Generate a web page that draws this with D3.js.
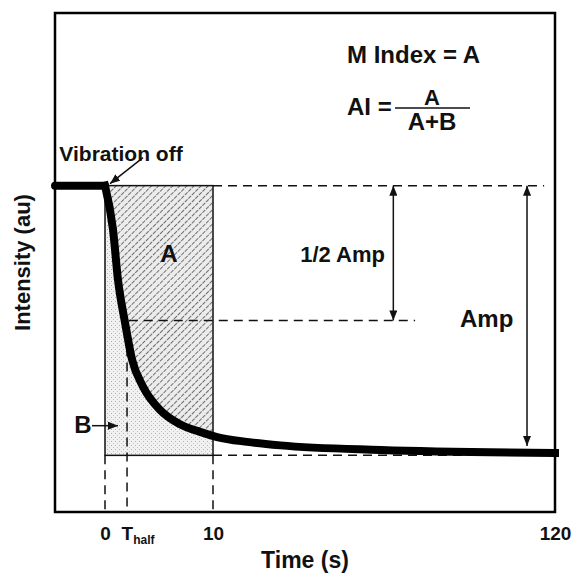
<!DOCTYPE html>
<html lang="en">
<head>
  <meta charset="UTF-8">
  <title>Intensity decay</title>
  <script src="https://d3js.org/d3.v7.min.js"></script>
  <style>
    body { margin: 0; background: #fff; }
    text { font-family: "Liberation Sans", Arial, sans-serif; font-weight: bold; fill: #111; }
  </style>
</head>
<body>
  <div id="wrapper"></div>
  <script>
    // values
    const preStepTime = [-4.6, 0]
    const preStepIntensity = [1, 1]
    const decayTime = [0, 0.74, 1.2, 1.85, 2.5, 3.5, 5.1, 6.9, 8.8, 11.3, 21, 31.7, 64, 120]
    const decayIntensity = [1, 0.837, 0.652, 0.493, 0.356, 0.256, 0.168, 0.116, 0.087, 0.068, 0.05, 0.037, 0.02, 0.009]
    const tickValues = [0, 2.04, 10, 120]
    const tickLabels = ['0', 'T', '10', '120']
    const tHalf = 2.04
    const windowEnd = 10
    const halfAmpArrowTime = 68
    const ampArrowTime = 111

    const drawChart = () => {
      let dimensions = {
        width: 579,
        height: 581,
        margin: { top: 13, right: 24, bottom: 69, left: 55 },
      }
      dimensions.boundedWidth = dimensions.width - dimensions.margin.left - dimensions.margin.right
      dimensions.boundedHeight = dimensions.height - dimensions.margin.top - dimensions.margin.bottom

      const wrapper = d3.select('#wrapper')
        .append('svg')
          .attr('width', dimensions.width)
          .attr('height', dimensions.height)

      const defs = wrapper.append('defs')

      // hatch for A
      const hatch = defs.append('pattern')
        .attr('id', 'hatchA')
        .attr('patternUnits', 'userSpaceOnUse')
        .attr('width', 5).attr('height', 5)
        .attr('patternTransform', 'rotate(45)')
      hatch.append('rect').attr('width', 5).attr('height', 5).attr('fill', '#ececec')
      hatch.append('line')
        .attr('x1', 0.5).attr('y1', 0).attr('x2', 0.5).attr('y2', 5)
        .attr('stroke', '#6e6e6e').attr('stroke-width', 1).attr('stroke-dasharray', '2,1')

      // stipple for B
      const dots = defs.append('pattern')
        .attr('id', 'dotsB')
        .attr('patternUnits', 'userSpaceOnUse')
        .attr('width', 4).attr('height', 4)
      dots.append('rect').attr('width', 4).attr('height', 4).attr('fill', '#f1f1f1')
      dots.append('rect').attr('x', 0).attr('y', 0).attr('width', 1).attr('height', 1).attr('fill', '#b0b0b0')
      dots.append('rect').attr('x', 2).attr('y', 2).attr('width', 1).attr('height', 1).attr('fill', '#c4c4c4')

      defs.append('marker')
        .attr('id', 'arrow')
        .attr('viewBox', '0 0 10 8')
        .attr('refX', 10).attr('refY', 4)
        .attr('markerWidth', 10).attr('markerHeight', 8)
        .attr('markerUnits', 'userSpaceOnUse')
        .attr('orient', 'auto-start-reverse')
        .append('path')
          .attr('d', 'M0,0 L10,4 L0,8 Z')
          .attr('fill', '#111')

      const bounds = wrapper.append('g')
        .style('transform', `translate(${dimensions.margin.left}px, ${dimensions.margin.top}px)`)

      // piecewise time axis: 0-10 s is stretched
      const xScale = d3.scaleLinear()
        .domain([-4.6, 0, windowEnd, 120])
        .range([0, 50, 158, dimensions.boundedWidth])

      const yScale = d3.scaleLinear()
        .domain([-0.21, 1.64])
        .range([dimensions.boundedHeight, 0])

      const decay = decayTime.map((t, i) => ({ t, v: decayIntensity[i] }))
      const preStep = preStepTime.map((t, i) => ({ t, v: preStepIntensity[i] }))

      defs.append('clipPath')
        .attr('id', 'windowClip')
        .append('rect')
          .attr('x', xScale(0))
          .attr('y', yScale(1))
          .attr('width', xScale(windowEnd) - xScale(0))
          .attr('height', yScale(0) - yScale(1))

      const areaA = d3.area()
        .x(d => xScale(d.t))
        .y0(yScale(1))
        .y1(d => yScale(d.v))
        .curve(d3.curveMonotoneX)

      const areaB = d3.area()
        .x(d => xScale(d.t))
        .y0(yScale(0))
        .y1(d => yScale(d.v))
        .curve(d3.curveMonotoneX)

      const windowG = bounds.append('g').attr('clip-path', 'url(#windowClip)')
      windowG.append('path').attr('d', areaA(decay)).attr('fill', 'url(#hatchA)')
      windowG.append('path').attr('d', areaB(decay)).attr('fill', 'url(#dotsB)')

      bounds.append('rect')
        .attr('x', xScale(0))
        .attr('y', yScale(1))
        .attr('width', xScale(windowEnd) - xScale(0))
        .attr('height', yScale(0) - yScale(1))
        .attr('fill', 'none')
        .attr('stroke', '#111')
        .attr('stroke-width', 1.5)

      // dashed guide lines
      const dashed = (x1, y1, x2, y2) => bounds.append('line')
        .attr('x1', x1).attr('y1', y1).attr('x2', x2).attr('y2', y2)
        .attr('stroke', '#111')
        .attr('stroke-width', 1.5)
        .attr('stroke-dasharray', '9,6')

      dashed(xScale(windowEnd), yScale(1), xScale(116.5), yScale(1))
      dashed(xScale(2.2), yScale(0.5), xScale(75), yScale(0.5))
      dashed(xScale(windowEnd), yScale(0), xScale(120), yScale(0))
      dashed(xScale(0), yScale(0), xScale(0), dimensions.boundedHeight)
      dashed(xScale(tHalf), yScale(0.4), xScale(tHalf), dimensions.boundedHeight)
      dashed(xScale(windowEnd), yScale(0), xScale(windowEnd), dimensions.boundedHeight)

      // intensity trace
      const lineGenerator = d3.line()
        .x(d => xScale(d.t))
        .y(d => yScale(d.v))

      bounds.append('path')
        .attr('d', lineGenerator(preStep))
        .attr('fill', 'none')
        .attr('stroke', '#000')
        .attr('stroke-width', 8)
        .attr('stroke-linecap', 'round')

      bounds.append('path')
        .attr('d', lineGenerator.curve(d3.curveMonotoneX)(decay))
        .attr('fill', 'none')
        .attr('stroke', '#000')
        .attr('stroke-width', 8)
        .attr('stroke-linecap', 'square')

      // arrows
      const arrow = (x1, y1, x2, y2, both) => {
        const l = bounds.append('line')
          .attr('x1', x1).attr('y1', y1).attr('x2', x2).attr('y2', y2)
          .attr('stroke', '#111')
          .attr('stroke-width', 1.5)
          .attr('marker-end', 'url(#arrow)')
        if (both) l.attr('marker-start', 'url(#arrow)')
      }
      arrow(xScale(halfAmpArrowTime), yScale(1), xScale(halfAmpArrowTime), yScale(0.5), true)
      arrow(xScale(ampArrowTime), yScale(1), xScale(ampArrowTime), yScale(0.035), true)
      arrow(xScale(0) + 38, yScale(1) - 28, xScale(0) + 5, yScale(1) - 2, false)
      arrow(xScale(0) - 13, yScale(0.11), xScale(0) + 13, yScale(0.11), false)

      // frame
      bounds.append('rect')
        .attr('width', dimensions.boundedWidth)
        .attr('height', dimensions.boundedHeight)
        .attr('fill', 'none')
        .attr('stroke', '#000')
        .attr('stroke-width', 2.5)

      // x axis labels
      const xAxisGenerator = d3.axisBottom(xScale)
        .tickValues(tickValues)
        .tickSize(0)
        .tickPadding(15)
        .tickFormat((d, i) => tickLabels[i])

      const xAxis = bounds.append('g')
        .attr('class', 'x-axis')
        .call(xAxisGenerator)
        .style('transform', `translateY(${dimensions.boundedHeight}px)`)
      xAxis.select('.domain').remove()
      xAxis.selectAll('.tick text')
        .attr('fill', '#111')
        .style('font-size', '19px')
        .style('font-family', '"Liberation Sans", Arial, sans-serif')
        .style('font-weight', 'bold')
      xAxis.selectAll('.tick text')
        .filter(d => d === tHalf)
        .attr('text-anchor', 'start')
        .attr('dx', -6)
        .append('tspan')
          .text('half')
          .attr('dy', 4)
          .style('font-size', '12px')

      // annotation text
      const label = (txt, x, y, size, anchor) => bounds.append('text')
        .attr('x', x).attr('y', y)
        .attr('text-anchor', anchor)
        .style('font-size', `${size}px`)
        .text(txt)

      label('Vibration off', 66, 148, 21, 'middle')
      label('M Index = A', 292, 50, 24, 'start')
      label('AI =', 292, 102, 24, 'start')
      label('A', 377, 92, 22, 'middle')
      label('A+B', 377, 117, 24, 'middle')
      bounds.append('line')
        .attr('x1', 340).attr('x2', 415).attr('y1', 95).attr('y2', 95)
        .attr('stroke', '#111').attr('stroke-width', 1.5)
      label('A', 114, 249, 24, 'middle')
      label('1/2 Amp', 330, 249, 22, 'end')
      label('Amp', 405, 314, 24, 'start')
      label('B', 28, 420, 24, 'middle')

      label('Time (s)', dimensions.boundedWidth / 2, 555, 23, 'middle')
      bounds.append('text')
        .attr('transform', `translate(-25, ${dimensions.boundedHeight / 2}) rotate(-90)`)
        .attr('text-anchor', 'middle')
        .style('font-size', '22px')
        .text('Intensity (au)')
    }

    drawChart()
  </script>
</body>
</html>
